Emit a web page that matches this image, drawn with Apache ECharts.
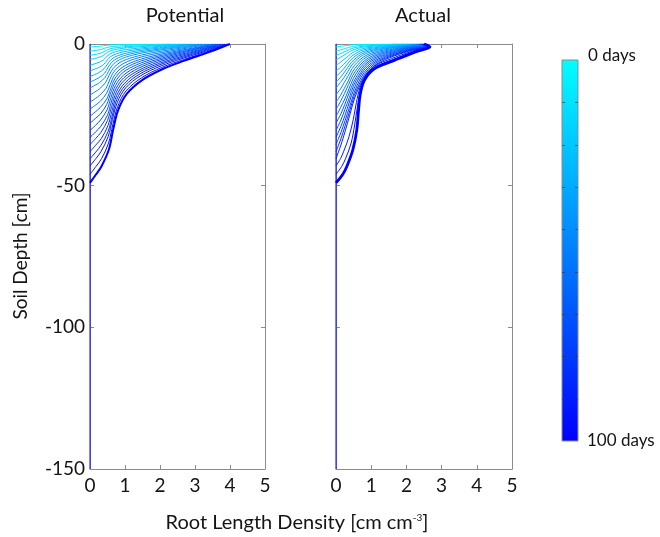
<!DOCTYPE html>
<html>
<head>
<meta charset="utf-8">
<script src="https://cdn.jsdelivr.net/npm/echarts@6/dist/echarts.min.js"></script>
<style>
  html, body { margin: 0; padding: 0; background: #fff; }
  #chart { width: 660px; height: 537px; }
</style>
</head>
<body>
<div id="chart"></div>
<script>
// Root length density profiles over a 100-day season.
// Each profile i reaches its rooting front at frontDepth[i]; the x values
// below are sampled at depthFraction * frontDepth[i] (cm below surface).
const dayOfProfile = [5, 9, 14, 18, 23, 27, 32, 36, 41, 45, 50, 55, 59, 64, 68, 73, 77, 82, 86, 91, 95, 100];
const frontDepth = [1, 2.5, 4, 5.5, 7.5, 9.5, 11.5, 13.5, 15.5, 18, 20.5, 23, 25.5, 28, 30.5, 33, 35.5, 38, 40.5, 43, 46, 49];
const depthFraction = [0, 0.02, 0.06, 0.12, 0.18, 0.26, 0.36, 0.48, 0.62, 0.76, 0.88, 0.94, 1];
const maxDepth = -150;

const potentialRLD = [
  [2.3, 2.19, 1.94, 1.55, 1.2, 0.86, 0.6, 0.46, 0.38, 0.31, 0.19, 0.1, 0],
  [2.45, 2.33, 2.07, 1.65, 1.27, 0.91, 0.64, 0.49, 0.4, 0.33, 0.2, 0.11, 0],
  [2.6, 2.47, 2.2, 1.76, 1.35, 0.97, 0.68, 0.52, 0.43, 0.35, 0.22, 0.11, 0],
  [2.7, 2.57, 2.28, 1.82, 1.4, 1.0, 0.71, 0.54, 0.45, 0.36, 0.22, 0.12, 0],
  [2.8, 2.66, 2.37, 1.89, 1.46, 1.04, 0.73, 0.56, 0.46, 0.38, 0.23, 0.12, 0],
  [2.9, 2.76, 2.45, 1.96, 1.51, 1.08, 0.76, 0.58, 0.48, 0.39, 0.24, 0.12, 0],
  [3.0, 2.85, 2.54, 2.03, 1.56, 1.12, 0.79, 0.6, 0.5, 0.4, 0.25, 0.13, 0],
  [3.1, 2.95, 2.62, 2.09, 1.61, 1.15, 0.81, 0.62, 0.51, 0.42, 0.26, 0.13, 0],
  [3.2, 3.04, 2.7, 2.16, 1.66, 1.19, 0.84, 0.64, 0.53, 0.43, 0.27, 0.14, 0],
  [3.3, 3.14, 2.79, 2.23, 1.72, 1.23, 0.86, 0.66, 0.54, 0.44, 0.27, 0.14, 0],
  [3.4, 3.23, 2.87, 2.3, 1.77, 1.26, 0.89, 0.68, 0.56, 0.46, 0.28, 0.15, 0],
  [3.5, 3.33, 2.96, 2.36, 1.82, 1.3, 0.92, 0.7, 0.58, 0.47, 0.29, 0.15, 0],
  [3.55, 3.37, 3.0, 2.4, 1.85, 1.32, 0.93, 0.71, 0.59, 0.48, 0.29, 0.15, 0],
  [3.6, 3.42, 3.04, 2.43, 1.87, 1.34, 0.94, 0.72, 0.59, 0.48, 0.3, 0.15, 0],
  [3.65, 3.47, 3.08, 2.46, 1.9, 1.36, 0.96, 0.73, 0.6, 0.49, 0.3, 0.16, 0],
  [3.7, 3.52, 3.13, 2.5, 1.92, 1.38, 0.97, 0.74, 0.61, 0.5, 0.31, 0.16, 0],
  [3.75, 3.56, 3.17, 2.53, 1.95, 1.4, 0.98, 0.75, 0.62, 0.5, 0.31, 0.16, 0],
  [3.8, 3.61, 3.21, 2.57, 1.98, 1.41, 1.0, 0.76, 0.63, 0.51, 0.32, 0.16, 0],
  [3.85, 3.66, 3.25, 2.6, 2.0, 1.43, 1.01, 0.77, 0.64, 0.52, 0.32, 0.17, 0],
  [3.9, 3.71, 3.3, 2.63, 2.03, 1.45, 1.02, 0.78, 0.64, 0.52, 0.32, 0.17, 0],
  [3.95, 3.75, 3.34, 2.67, 2.05, 1.47, 1.03, 0.79, 0.65, 0.53, 0.33, 0.17, 0],
  [4.0, 3.8, 3.38, 2.7, 2.08, 1.49, 1.05, 0.8, 0.66, 0.54, 0.33, 0.17, 0]
];

const actualRLD = [
  [1.59, 1.7, 1.36, 0.99, 0.73, 0.56, 0.44, 0.34, 0.26, 0.17, 0.09, 0.05, 0],
  [1.68, 1.8, 1.44, 1.04, 0.77, 0.59, 0.47, 0.36, 0.27, 0.18, 0.1, 0.05, 0],
  [1.78, 1.9, 1.52, 1.1, 0.82, 0.63, 0.49, 0.38, 0.29, 0.19, 0.1, 0.05, 0],
  [1.84, 1.97, 1.58, 1.14, 0.85, 0.65, 0.51, 0.39, 0.3, 0.2, 0.11, 0.06, 0],
  [1.91, 2.04, 1.63, 1.18, 0.88, 0.67, 0.53, 0.41, 0.31, 0.2, 0.11, 0.06, 0],
  [1.97, 2.1, 1.68, 1.22, 0.9, 0.69, 0.55, 0.42, 0.32, 0.21, 0.12, 0.06, 0],
  [2.02, 2.16, 1.73, 1.25, 0.93, 0.71, 0.56, 0.43, 0.32, 0.22, 0.12, 0.06, 0],
  [2.08, 2.22, 1.78, 1.29, 0.95, 0.73, 0.58, 0.44, 0.33, 0.22, 0.12, 0.06, 0],
  [2.12, 2.27, 1.82, 1.32, 0.98, 0.75, 0.59, 0.45, 0.34, 0.23, 0.12, 0.06, 0],
  [2.17, 2.32, 1.86, 1.35, 1.0, 0.77, 0.6, 0.46, 0.35, 0.23, 0.13, 0.06, 0],
  [2.22, 2.37, 1.9, 1.37, 1.02, 0.78, 0.62, 0.47, 0.36, 0.24, 0.13, 0.07, 0],
  [2.26, 2.41, 1.93, 1.4, 1.04, 0.8, 0.63, 0.48, 0.36, 0.24, 0.13, 0.07, 0],
  [2.29, 2.45, 1.96, 1.42, 1.05, 0.81, 0.64, 0.49, 0.37, 0.25, 0.13, 0.07, 0],
  [2.33, 2.49, 1.99, 1.44, 1.07, 0.82, 0.65, 0.5, 0.37, 0.25, 0.14, 0.07, 0],
  [2.36, 2.52, 2.02, 1.46, 1.08, 0.83, 0.66, 0.5, 0.38, 0.25, 0.14, 0.07, 0],
  [2.39, 2.55, 2.04, 1.48, 1.1, 0.84, 0.66, 0.51, 0.38, 0.26, 0.14, 0.07, 0],
  [2.41, 2.58, 2.06, 1.5, 1.11, 0.85, 0.67, 0.52, 0.39, 0.26, 0.14, 0.07, 0],
  [2.43, 2.6, 2.08, 1.51, 1.12, 0.86, 0.68, 0.52, 0.39, 0.26, 0.14, 0.07, 0],
  [2.45, 2.62, 2.1, 1.52, 1.13, 0.86, 0.68, 0.52, 0.39, 0.26, 0.14, 0.07, 0],
  [2.47, 2.64, 2.15, 1.58, 1.1, 0.84, 0.68, 0.58, 0.49, 0.37, 0.22, 0.13, 0],
  [2.49, 2.66, 2.19, 1.61, 1.09, 0.82, 0.69, 0.61, 0.53, 0.43, 0.27, 0.16, 0],
  [2.5, 2.67, 2.22, 1.64, 1.08, 0.81, 0.69, 0.64, 0.59, 0.48, 0.31, 0.19, 0]
];

const panelTitles = ['Potential', 'Actual'];
const xTicks = [0, 1, 2, 3, 4, 5];
const yTicks = [0, -50, -100, -150];
const colorbarLabels = ['0 days', '100 days'];

const FONT = "Lato, 'Noto Sans', sans-serif";
const AXIS_GRAY = '#8c8c8c';
const TEXT = '#141414';

// cyan (day 0) -> blue (day 100)
function dayColor(day) {
  const g = Math.round(255 * (1 - day / 100));
  return 'rgb(0,' + g + ',255)';
}

function profilePoints(values, i) {
  return values.map((v, j) => [v, -depthFraction[j] * frontDepth[i]]);
}

const grids = [
  { left: 90, top: 44, width: 175, height: 425 },
  { left: 336, top: 44, width: 176, height: 425 }
];

const xAxes = [];
const yAxes = [];
grids.forEach((g, gi) => {
  ['bottom', 'top'].forEach(pos => {
    xAxes.push({
      gridIndex: gi, type: 'value', position: pos, min: 0, max: 5, interval: 1,
      axisLine: { show: true, onZero: false, lineStyle: { color: AXIS_GRAY, width: 1 } },
      axisTick: { show: true, inside: true, length: 4, lineStyle: { color: AXIS_GRAY } },
      axisLabel: { show: pos === 'bottom', color: TEXT, fontSize: 19, fontFamily: FONT, margin: 7,
                   formatter: v => xTicks.includes(v) ? String(v) : '' },
      splitLine: { show: false }
    });
  });
  ['left', 'right'].forEach(pos => {
    yAxes.push({
      gridIndex: gi, type: 'value', position: pos, min: -150, max: 0, interval: 50,
      axisLine: { show: true, onZero: false, lineStyle: { color: AXIS_GRAY, width: 1 } },
      axisTick: { show: true, inside: true, length: 4, lineStyle: { color: AXIS_GRAY } },
      axisLabel: { show: pos === 'left' && gi === 0, color: TEXT, fontSize: 19, fontFamily: FONT, margin: 5,
                   formatter: v => yTicks.includes(v) ? String(v) : '' },
      splitLine: { show: false }
    });
  });
});

const series = [];
[potentialRLD, actualRLD].forEach((set, gi) => {
  const lastIdx = set.length - 1;
  // zero density along the whole profile below the rooting fronts
  series.push({
    type: 'line',
    xAxisIndex: gi * 2,
    yAxisIndex: gi * 2,
    data: [[0, 0], [0, maxDepth]],
    showSymbol: false, silent: true, animation: false,
    lineStyle: { color: dayColor(dayOfProfile[lastIdx]), width: 1 }
  });
  set.forEach((values, i) => {
    const last = i === lastIdx;
    series.push({
      type: 'line',
      xAxisIndex: gi * 2,
      yAxisIndex: gi * 2,
      data: profilePoints(values, i),
      showSymbol: false,
      smooth: 0.35,
      silent: true,
      animation: false,
      lineStyle: { color: dayColor(dayOfProfile[i]), width: last ? (gi === 0 ? 2 : 2.8) : 1 }
    });
  });
});

// colour bar
const cb = { x: 562, y: 60, w: 16, h: 381 };
const cbElements = [
  {
    type: 'rect', shape: { x: cb.x, y: cb.y, width: cb.w, height: cb.h },
    style: {
      fill: new echarts.graphic.LinearGradient(0, 0, 0, 1, [
        { offset: 0, color: dayColor(0) }, { offset: 1, color: dayColor(100) }
      ]),
      stroke: AXIS_GRAY, lineWidth: 1
    }
  }
];
for (let k = 1; k < 9; k++) {
  const ty = Math.round(cb.y + cb.h * k / 9) + 0.5;
  cbElements.push({ type: 'line', shape: { x1: cb.x, y1: ty, x2: cb.x + 3, y2: ty }, style: { stroke: '#333', lineWidth: 1, opacity: 0.6 } });
  cbElements.push({ type: 'line', shape: { x1: cb.x + cb.w - 3, y1: ty, x2: cb.x + cb.w, y2: ty }, style: { stroke: '#333', lineWidth: 1, opacity: 0.6 } });
}
cbElements.push({ type: 'text', x: 588, y: 56, style: { text: colorbarLabels[0], fontSize: 17, fontFamily: FONT, fill: TEXT, verticalAlign: 'middle' } });
cbElements.push({ type: 'text', x: 587, y: 441, style: { text: colorbarLabels[1], fontSize: 17, fontFamily: FONT, fill: TEXT, verticalAlign: 'middle' } });

const textElements = [
  { type: 'text', x: 185, y: 16, style: { text: panelTitles[0], fontSize: 20, fontFamily: FONT, fill: TEXT, align: 'center', verticalAlign: 'middle' } },
  { type: 'text', x: 423, y: 16, style: { text: panelTitles[1], fontSize: 20, fontFamily: FONT, fill: TEXT, align: 'center', verticalAlign: 'middle' } },
  {
    type: 'text', x: 297, y: 523,
    style: {
      text: 'Root Length Density [cm cm{sup|-3}]',
      fontSize: 20, fontFamily: FONT, fill: TEXT, align: 'center', verticalAlign: 'middle',
      rich: { sup: { fontSize: 10, fontFamily: FONT, fill: TEXT, verticalAlign: 'top', padding: [0, 0, 9, 0] } }
    }
  },
  {
    type: 'text', x: 21, y: 256, rotation: Math.PI / 2,
    style: { text: 'Soil Depth [cm]', fontSize: 19, fontFamily: FONT, fill: TEXT, align: 'center', verticalAlign: 'middle' }
  }
];

const chart = echarts.init(document.getElementById('chart'), null, { renderer: 'canvas' });
chart.setOption({
  animation: false,
  backgroundColor: '#ffffff',
  grid: grids,
  xAxis: xAxes,
  yAxis: yAxes,
  series: series,
  graphic: cbElements.concat(textElements)
});
</script>
</body>
</html>
